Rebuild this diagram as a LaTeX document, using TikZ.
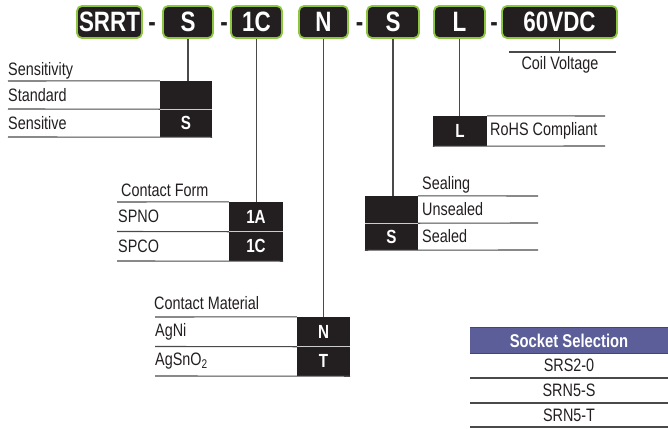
\documentclass[tikz,border=0pt]{standalone}
\usepackage{fontspec}
\setmainfont{Liberation Sans}
\newfontfamily\thinfont[FakeStretch=0.8]{Liberation Sans}
\newfontfamily\codefont[FakeStretch=0.8]{Liberation Sans}
\definecolor{boxblack}{HTML}{231F20}
\definecolor{limegreen}{HTML}{8DC63F}
\definecolor{socketblue}{HTML}{5B5E99}
\definecolor{rulegrey}{HTML}{4A4A4A}
\begin{document}
\begin{tikzpicture}[x=1pt,y=-1pt,
    part/.style={draw=limegreen, line width=1.8pt, fill=boxblack, rounded corners=5pt, text=white,
      font=\codefont\bfseries\fontsize{28}{28}\selectfont, minimum height=32pt, inner sep=0pt},
    hyph/.style={anchor=base, text=boxblack, inner sep=0pt, font=\codefont\bfseries\fontsize{28}{28}\selectfont},
    code/.style={fill=boxblack, text=white, inner sep=0pt, font=\codefont\bfseries\fontsize{19}{19}\selectfont},
    grouptitle/.style={anchor=base west, text=boxblack, inner sep=0pt, font=\thinfont\fontsize{18}{18}\selectfont},
    rowtext/.style={anchor=west, text=boxblack, inner sep=0pt, font=\thinfont\fontsize{18}{18}\selectfont},
    rule/.style={draw=rulegrey, line width=1.1pt},
    sep/.style={draw=black!20, line width=1.1pt},
    link/.style={draw=rulegrey, line width=1.1pt}]
    \useasboundingbox (0,0) rectangle (668,428);
    % part number
    \node[part, minimum width=65pt] (pSRRT) at (109.5,22) {SRRT};
    \node[part, minimum width=50pt] (pS) at (188,22) {S};
    \node[part, minimum width=51pt] (pC) at (256.5,22) {1C};
    \node[part, minimum width=49pt] (pN) at (323.5,22) {N};
    \node[part, minimum width=52pt] (pSeal) at (393,22) {S};
    \node[part, minimum width=51pt] (pL) at (459.5,22) {L};
    \node[part, minimum width=115pt] (pV) at (559.5,22) {60VDC};
    \node[hyph] (h1) at (152,31) {-};
    \node[hyph] (h2) at (224,31) {-};
    \node[hyph] (h3) at (359.5,31) {-};
    \node[hyph] (h4) at (494,31) {-};
    % sensitivity
    \node[grouptitle] (tSens) at (8,75) {Sensitivity};
    \node[code, minimum width=52pt, minimum height=28pt] (cStd) at (186,95) {};
    \node[code, minimum width=52pt, minimum height=28pt] (cSens) at (186,123) {S};
    \node[rowtext] (rStd) at (8,95) {Standard};
    \node[rowtext] (rSens) at (8,123) {Sensitive};
    \draw[rule] (8,81) -- (cStd.north west);
    \draw[rule] (8,109) -- (cStd.south west);
    \draw[sep] (cStd.south west) -- (cStd.south east);
    \draw[rule] (8,137) -- (cSens.south east);
    \draw[link] (pS) -- (pS |- cStd.north);
    % contact form
    \node[grouptitle] (tForm) at (121,196) {Contact Form};
    \node[code, minimum width=54pt, minimum height=29.5pt] (c1A) at (256,216.75) {1A};
    \node[code, minimum width=54pt, minimum height=29.5pt] (c1C) at (256,246.25) {1C};
    \node[rowtext] (rSPNO) at (118,216.75) {SPNO};
    \node[rowtext] (rSPCO) at (118,246.25) {SPCO};
    \draw[rule] (117,202) -- (c1A.north west);
    \draw[rule] (117,231.5) -- (c1A.south west);
    \draw[sep] (c1A.south west) -- (c1A.south east);
    \draw[rule] (117,261) -- (c1C.south east);
    \draw[link] (pC) -- (pC |- c1A.north);
    % contact material
    \node[grouptitle] (tMat) at (154,309) {Contact Material};
    \node[code, minimum width=53pt, minimum height=29.5pt] (cN) at (323.5,331.75) {N};
    \node[code, minimum width=53pt, minimum height=29.5pt] (cT) at (323.5,361.25) {T};
    \node[rowtext] (rAgNi) at (155,331.75) {AgNi};
    \node[rowtext] (rAgSn) at (155,361.25) {AgSnO\textsubscript{2}};
    \draw[rule] (155,317) -- (cN.north west);
    \draw[rule] (155,346.5) -- (cN.south west);
    \draw[sep] (cN.south west) -- (cN.south east);
    \draw[rule] (155,376) -- (cT.south east);
    \draw[link] (pN) -- (pN |- cN.north);
    % sealing
    \node[grouptitle] (tSeal) at (422,189) {Sealing};
    \node[code, minimum width=53pt, minimum height=27pt] (cUns) at (391.5,209.5) {};
    \node[code, minimum width=53pt, minimum height=27pt] (cSealed) at (391.5,236.5) {S};
    \node[rowtext] (rUns) at (422,209.5) {Unsealed};
    \node[rowtext] (rSealed) at (422,236.5) {Sealed};
    \draw[rule] (cUns.north east) -- (538,196);
    \draw[rule] (cUns.south east) -- (538,223);
    \draw[sep] (cUns.south west) -- (cUns.south east);
    \draw[rule] (cSealed.south west) -- (538,250);
    \draw[link] (pSeal) -- (pSeal |- cUns.north);
    % rohs
    \node[code, minimum width=54pt, minimum height=30pt] (cRoHS) at (460,131) {L};
    \node[rowtext] (rRoHS) at (490,131) {RoHS Compliant};
    \draw[rule] (cRoHS.north east) -- (605,116);
    \draw[rule] (cRoHS.south west) -- (605,146);
    \draw[link] (pL) -- (pL |- cRoHS.north);
    % coil voltage
    \coordinate (coilL) at (509,52);
    \coordinate (coilR) at (616,52);
    \draw[rule] (coilL) -- (coilR);
    \draw[link] (pV) -- (pV |- coilL);
    \node[anchor=base, text=boxblack, inner sep=0pt, font=\thinfont\fontsize{18}{18}\selectfont] (tCoil) at (560,70) {Coil Voltage};
    % sockets
    \node[fill=socketblue, minimum width=198pt, minimum height=25pt, inner sep=0pt, text=white,
      font=\codefont\bfseries\fontsize{18.5}{18.5}\selectfont] (sHead) at (569,340.5) {Socket Selection};
    \draw[rule] (sHead.north west) -- (sHead.north east);
    \draw[rule] (sHead.south west) -- (sHead.south east);
    \node[rowtext, anchor=center] (s1) at (569,365.5) {SRS2-0};
    \node[rowtext, anchor=center] (s2) at (569,390.5) {SRN5-S};
    \node[rowtext, anchor=center] (s3) at (569,415) {SRN5-T};
    \foreach \y in {378,403,427}
        \draw[rule] (470,\y) -- (668,\y);
\end{tikzpicture}
\end{document}
